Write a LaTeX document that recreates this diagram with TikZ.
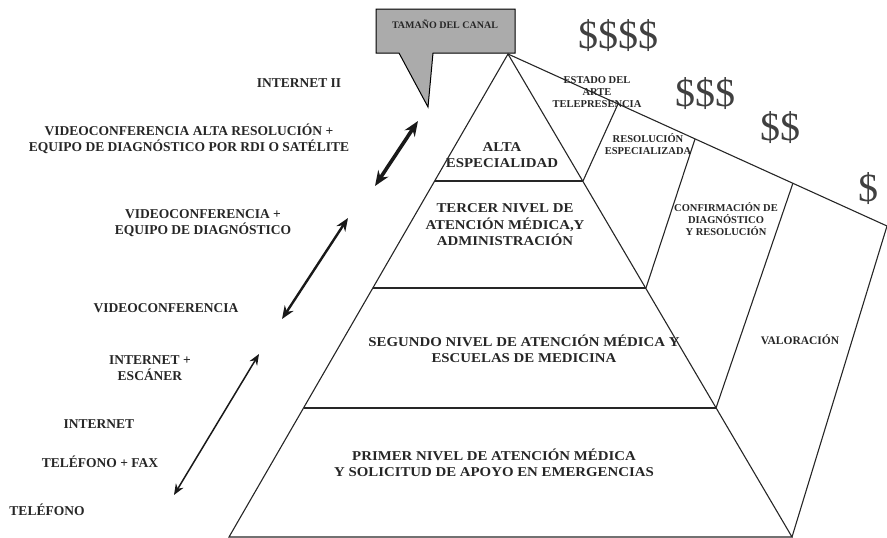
\documentclass[tikz,border=0pt]{standalone}
\usepackage{fontspec}
\setmainfont{Liberation Serif}
\newfontfamily\widefont{Liberation Serif}[FakeStretch=1.1]
\usetikzlibrary{arrows.meta}
\begin{document}
\begin{tikzpicture}[x=1pt,y=-1pt,
  pyrline/.style={line width=1.1pt, black!85},
  leftlbl/.style={font=\fontsize{13.5}{16}\selectfont\bfseries, align=center, inner sep=0pt, text=black!85},
  pyrlbl/.style={font=\widefont\fontsize{13.5}{16.5}\selectfont\bfseries, align=center, inner sep=0pt, text=black!85},
  collbl/.style={font=\fontsize{10.5}{12}\selectfont\bfseries, align=center, inner sep=0pt, text=black!85},
  cost/.style={font=\fontsize{40}{40}\selectfont, inner sep=0pt, text=black!75},
  dblarrow/.style={black!90, {Stealth[length=#1,width=0.8*#1]}-{Stealth[length=#1,width=0.8*#1]}}
  ]
\useasboundingbox (0,0) rectangle (887,538);

% callout
\coordinate (c1) at (376,9);
\coordinate (c2) at (515,9);
\coordinate (c3) at (515,53);
\coordinate (c4) at (433,53);
\coordinate (ctip) at (428,107);
\coordinate (c5) at (399,53);
\coordinate (c6) at (376,53);
\draw[fill=black!33, line width=1pt] (c1) -- (c2) -- (c3) -- (c4) -- (ctip) -- (c5) -- (c6) -- cycle;
\node[collbl, font=\fontsize{10}{12}\selectfont\bfseries] (canal) at (445,24) {TAMAÑO DEL CANAL};

% pyramid points
\coordinate (A) at (508,54);
\coordinate (BL) at (229,537);
\coordinate (BR) at (792,537);
\coordinate (L1) at (435,181);
\coordinate (R1) at (583,181);
\coordinate (L2) at (373,288);
\coordinate (R2) at (646,288);
\coordinate (L3) at (303.5,408);
\coordinate (R3) at (716,408);
\coordinate (T1) at (618,104);
\coordinate (T2) at (695,139);
\coordinate (T3) at (793,183);
\coordinate (T4) at (887,226);

\draw[pyrline] (BL) -- (A) -- (BR) -- cycle;
\draw[pyrline] (L1) -- (R1);
\draw[pyrline] (L2) -- (R2);
\draw[pyrline] (L3) -- (R3);
\draw[pyrline] (A) -- (T4);
\draw[pyrline] (T1) -- (R1);
\draw[pyrline] (T2) -- (R2);
\draw[pyrline] (T3) -- (R3);
\draw[pyrline] (T4) -- (BR);

% pyramid labels
\node[pyrlbl] (alta) at (502,155) {ALTA\\ESPECIALIDAD};
\node[pyrlbl] (tercer) at (505,225) {TERCER NIVEL DE\\ATENCIÓN MÉDICA,Y\\ADMINISTRACIÓN};
\node[pyrlbl] (segundo) at (524,349) {SEGUNDO NIVEL DE ATENCIÓN MÉDICA Y\\ESCUELAS DE MEDICINA};
\node[pyrlbl] (primer) at (494,463) {PRIMER NIVEL DE ATENCIÓN MÉDICA\\Y SOLICITUD DE APOYO EN EMERGENCIAS};

% column labels
\node[collbl] (estado) at (597,92) {ESTADO DEL\\ARTE\\TELEPRESENCIA};
\node[collbl] (resol) at (648,144) {RESOLUCIÓN\\ESPECIALIZADA};
\node[collbl] (confir) at (726,219) {CONFIRMACIÓN DE\\DIAGNÓSTICO\\Y RESOLUCIÓN};
\node[collbl, font=\fontsize{11.5}{13}\selectfont\bfseries] (valor) at (800,340) {VALORACIÓN};

% cost labels
\node[cost] (d4) at (618,36) {\$\$\$\$};
\node[cost] (d3) at (705,94) {\$\$\$};
\node[cost] (d2) at (780,128) {\$\$};
\node[cost] (d1) at (868,189) {\$};

% left labels
\node[leftlbl] (inet2) at (299,83) {INTERNET II};
\node[leftlbl] (vcalta) at (189,139) {VIDEOCONFERENCIA ALTA RESOLUCIÓN +\\EQUIPO DE DIAGNÓSTICO POR RDI O SATÉLITE};
\node[leftlbl] (vceq) at (203,223) {VIDEOCONFERENCIA +\\EQUIPO DE DIAGNÓSTICO};
\node[leftlbl] (vc) at (166,308) {VIDEOCONFERENCIA};
\node[leftlbl] (inetesc) at (150,368) {INTERNET +\\ESCÁNER};
\node[leftlbl] (inet) at (99,424) {INTERNET};
\node[leftlbl] (telfax) at (100,462) {TELÉFONO + FAX};
\node[leftlbl] (tel) at (47,510) {TELÉFONO};

% arrows
\coordinate (a1s) at (375,186);
\coordinate (a1e) at (418,121);
\coordinate (a2s) at (282,319);
\coordinate (a2e) at (348,218);
\coordinate (a3s) at (174,495);
\coordinate (a3e) at (259,354);
\draw[dblarrow=15pt, line width=3.6pt] (a1s) -- (a1e);
\draw[dblarrow=13pt, line width=2.4pt] (a2s) -- (a2e);
\draw[dblarrow=11pt, line width=1.5pt] (a3s) -- (a3e);
\end{tikzpicture}
\end{document}
